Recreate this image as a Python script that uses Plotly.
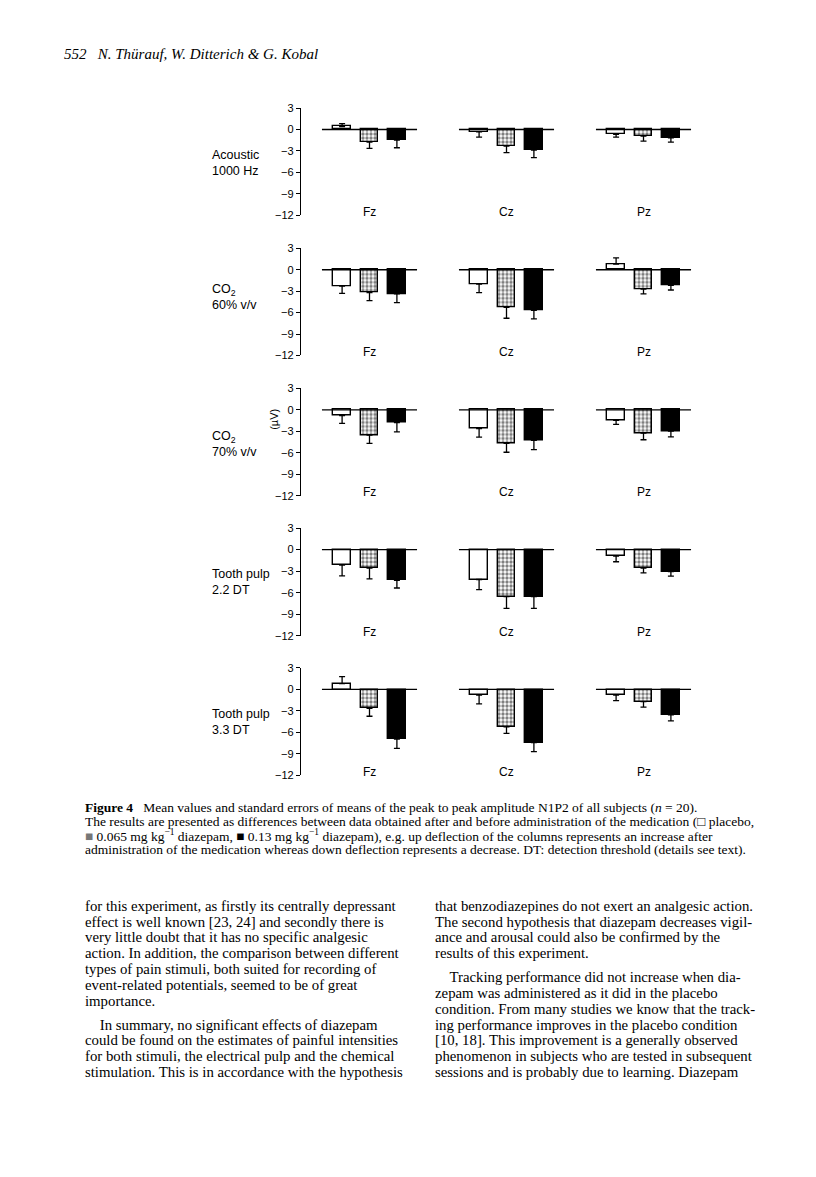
import plotly.graph_objects as go

W, H = 816, 1177

# ---- data -------------------------------------------------------------------
ELECTRODES = ["Fz", "Cz", "Pz"]
ROW_LABELS = [
    "Acoustic<br>1000 Hz",
    "CO<sub>2</sub><br>60% v/v",
    "CO<sub>2</sub><br>70% v/v",
    "Tooth pulp<br>2.2 DT",
    "Tooth pulp<br>3.3 DT",
]
# mean change (µV) per stimulus row, electrodes Fz, Cz, Pz
PLACEBO = [
    [0.42, -0.32, -0.69],
    [-2.29, -2.02, 0.78],
    [-0.78, -2.61, -1.47],
    [-2.15, -4.16, -0.91],
    [0.82, -0.78, -0.78],
]
LOW_DOSE = [
    [-1.76, -2.31, -0.93],
    [-3.21, -5.28, -2.71],
    [-3.53, -4.68, -3.26],
    [-2.56, -6.53, -2.56],
    [-2.65, -5.21, -1.69],
]
HIGH_DOSE = [
    [-1.48, -2.87, -1.16],
    [-3.39, -5.69, -2.20],
    [-1.79, -4.27, -2.98],
    [-4.29, -6.53, -3.06],
    [-6.94, -7.40, -3.56],
]
# standard errors
PLACEBO_SE = [
    [0.41, 0.74, 0.37],
    [1.01, 1.19, 0.87],
    [1.10, 1.20, 0.55],
    [1.50, 1.41, 0.78],
    [0.96, 1.23, 0.77],
]
LOW_SE = [
    [0.88, 0.93, 0.69],
    [1.10, 1.51, 0.68],
    [1.15, 1.24, 0.91],
    [1.50, 1.64, 0.68],
    [1.09, 0.91, 0.78],
]
HIGH_SE = [
    [1.07, 1.07, 0.60],
    [1.20, 1.19, 0.64],
    [1.28, 1.28, 0.78],
    [1.05, 1.64, 0.64],
    [1.28, 1.28, 0.82],
]
Y_TICKS = [3, 0, -3, -6, -9, -12]

# ---- layout geometry (pixels on the page) -----------------------------------
ROW_TOP = [95, 236.7, 378.3, 519.3, 660.7]      # pixel of y = 3
ROW_BOT = [203.5, 345, 486.7, 628.3, 769.3]     # pixel of y = -12
LABEL_Y = [151, 286, 434, 574, 715]
AX_LEFT, AX_RIGHT = 293, 700
X_RANGE = [-0.5, -0.5 + (AX_RIGHT - AX_LEFT) / 137.0]
GROUP_X = [0, 1, 2]
BAR_SHIFT = 0.2
BAR_W = 0.128
BASE_HALF = 0.347

SANS = "Liberation Sans, Arial, sans-serif"
SERIF = "Liberation Serif, Times New Roman, serif"

fig = go.Figure()


def err_parts(means, ses):
    up = [s if m > 0 else 0 for m, s in zip(means, ses)]
    down = [s if m < 0 else 0 for m, s in zip(means, ses)]
    return up, down


series = [
    ("placebo", PLACEBO, PLACEBO_SE, -BAR_SHIFT, dict(color="white")),
    ("0.065 mg/kg", LOW_DOSE, LOW_SE, 0.0,
     dict(color="white", pattern=dict(shape=".", fgcolor="black", bgcolor="white",
                                      size=4, solidity=0.55))),
    ("0.13 mg/kg", HIGH_DOSE, HIGH_SE, BAR_SHIFT, dict(color="black")),
]

for r in range(5):
    xa = "x" if r == 0 else f"x{r + 1}"
    ya = "y" if r == 0 else f"y{r + 1}"
    # baseline segments for each electrode group
    bx, by = [], []
    for g in GROUP_X:
        bx += [g - BASE_HALF, g + BASE_HALF, None]
        by += [0, 0, None]
    fig.add_trace(go.Scatter(x=bx, y=by, mode="lines", line=dict(color="black", width=1.3),
                             xaxis=xa, yaxis=ya, showlegend=False, hoverinfo="skip"))
    for name, means, ses, shift, mk in series:
        m = means[r]
        up, down = err_parts(m, ses[r])
        fig.add_trace(go.Bar(
            x=[g + shift for g in GROUP_X], y=m, width=BAR_W, name=name,
            marker=dict(line=dict(color="black", width=1.4), **mk),
            error_y=dict(type="data", symmetric=False, array=up, arrayminus=down,
                         color="black", thickness=1.3, width=3),
            xaxis=xa, yaxis=ya, showlegend=False,
        ))
    for g, lab in zip(GROUP_X, ELECTRODES):
        fig.add_annotation(x=g, y=-11.5, xref=xa, yref=ya, text=lab, showarrow=False,
                           font=dict(family=SANS, size=12, color="black"))

layout = {}
for r in range(5):
    sx = "xaxis" if r == 0 else f"xaxis{r + 1}"
    sy = "yaxis" if r == 0 else f"yaxis{r + 1}"
    yname = "y" if r == 0 else f"y{r + 1}"
    xname = "x" if r == 0 else f"x{r + 1}"
    layout[sx] = dict(domain=[AX_LEFT / W, AX_RIGHT / W], range=X_RANGE, anchor=yname,
                      visible=False, fixedrange=True)
    layout[sy] = dict(domain=[1 - ROW_BOT[r] / H, 1 - ROW_TOP[r] / H], range=[-12, 3],
                      anchor=xname, tickvals=Y_TICKS, ticks="outside", ticklen=4,
                      tickwidth=1.2, tickcolor="black", showline=True, linecolor="black",
                      linewidth=1.3, showgrid=False, zeroline=False,
                      tickfont=dict(family=SANS, size=11, color="black"))
fig.update_layout(**layout)

# row labels
for lab, py in zip(ROW_LABELS, LABEL_Y):
    fig.add_annotation(x=202 / W, y=1 - py / H, xref="paper", yref="paper", text=lab,
                       showarrow=False, xanchor="left", yanchor="middle", align="left",
                       font=dict(family=SANS, size=12.5, color="black"))
fig.add_annotation(x=258 / W, y=1 - 410 / H, xref="paper", yref="paper", text="(µV)",
                   showarrow=False, textangle=-90, font=dict(family=SANS, size=11, color="black"))

# running header
fig.add_annotation(x=54 / W, y=1 - 40 / H, xref="paper", yref="paper",
                   text="<i>552   N. Thürauf, W. Ditterich & G. Kobal</i>", showarrow=False,
                   xanchor="left", yanchor="middle", font=dict(family=SERIF, size=15, color="black"))

# caption
CAPTION = [
    "<b>Figure 4</b>   Mean values and standard errors of means of the peak to peak amplitude N1P2 of all subjects (<i>n</i> = 20).",
    "The results are presented as differences between data obtained after and before administration of the medication (□ placebo,",
    "<span style='color:#777'>■</span> 0.065 mg kg<sup>−1</sup> diazepam, ■ 0.13 mg kg<sup>−1</sup> diazepam), e.g. up deflection of the columns represents an increase after",
    "administration of the medication whereas down deflection represents a decrease. DT: detection threshold (details see text).",
]
for i, line in enumerate(CAPTION):
    fig.add_annotation(x=75 / W, y=1 - (802 + 14 * i) / H, xref="paper", yref="paper", text=line,
                       showarrow=False, xanchor="left", yanchor="middle",
                       font=dict(family=SERIF, size=13.5, color="black"))

LEFT_COL = [
    (901, "for this experiment, as firstly its centrally depressant"),
    (917, "effect is well known [23, 24] and secondly there is"),
    (933, "very little doubt that it has no specific analgesic"),
    (949, "action. In addition, the comparison between different"),
    (965, "types of pain stimuli, both suited for recording of"),
    (981, "event-related potentials, seemed to be of great"),
    (997, "importance."),
    (1021, "    In summary, no significant effects of diazepam"),
    (1037, "could be found on the estimates of painful intensities"),
    (1053, "for both stimuli, the electrical pulp and the chemical"),
    (1069, "stimulation. This is in accordance with the hypothesis"),
]
RIGHT_COL = [
    (901, "that benzodiazepines do not exert an analgesic action."),
    (917, "The second hypothesis that diazepam decreases vigil-"),
    (933, "ance and arousal could also be confirmed by the"),
    (949, "results of this experiment."),
    (973, "    Tracking performance did not increase when dia-"),
    (989, "zepam was administered as it did in the placebo"),
    (1005, "condition. From many studies we know that the track-"),
    (1021, "ing performance improves in the placebo condition"),
    (1037, "[10, 18]. This improvement is a generally observed"),
    (1053, "phenomenon in subjects who are tested in subsequent"),
    (1069, "sessions and is probably due to learning. Diazepam"),
]
for x0, col in ((75, LEFT_COL), (425, RIGHT_COL)):
    for py, line in col:
        fig.add_annotation(x=x0 / W, y=1 - py / H, xref="paper", yref="paper", text=line,
                           showarrow=False, xanchor="left", yanchor="middle",
                           font=dict(family=SERIF, size=14.8, color="black"))

fig.update_layout(
    width=W, height=H, margin=dict(l=0, r=0, t=0, b=0),
    paper_bgcolor="white", plot_bgcolor="rgba(0,0,0,0)",
    barmode="overlay", bargap=0, showlegend=False,
)

fig.write_html("out.html")
